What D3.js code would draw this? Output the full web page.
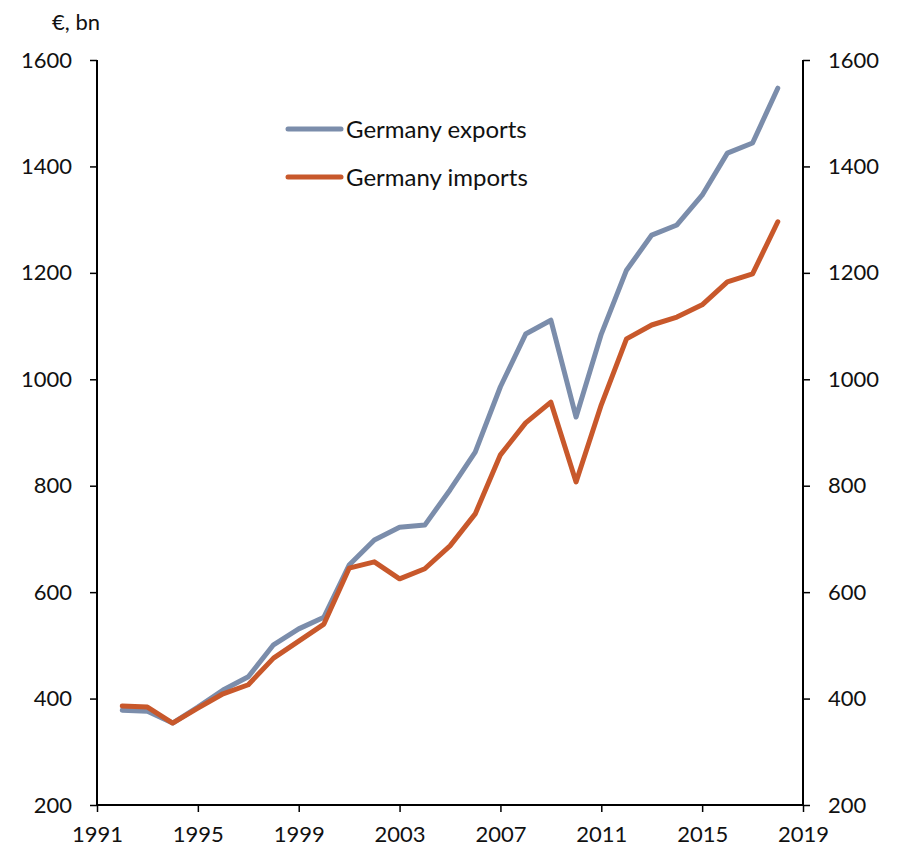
<!DOCTYPE html>
<html><head><meta charset="utf-8">
<script src="https://cdn.jsdelivr.net/npm/d3@7"></script>
<style>body{margin:0;background:#fff}svg text{font-family:Lato,"Open Sans",sans-serif;fill:#111}</style>
</head><body><svg id="c" width="901" height="853"></svg>
<script>
const years = d3.range(1992, 2019);
const exportsVals = [378,376,354,384,416,441,501,531,553,651,698,722,726,792,863,986,1085,1111,929,1085,1205,1271,1290,1346,1425,1444,1547];
const importsVals = [386,384,354,382,409,426,476,508,540,645,657,625,644,687,747,858,918,957,807,952,1076,1102,1117,1140,1183,1198,1296];
const seriesNames = ["Germany exports","Germany imports"];
const seriesColors = ["#7B8DAB","#C8582B"];
const yTicks = [200,400,600,800,1000,1200,1400,1600];
const xTicks = [1991,1995,1999,2003,2007,2011,2015,2019];
const unitLabel = "€, bn";

const svg = d3.select("#c");
const L=97, R=803, T=60, B=805;
const x = d3.scaleLinear().domain([1991,2019]).range([L,R]);
const y = d3.scaleLinear().domain([200,1600]).range([B,T]);
const fs = "22px";

const gl = svg.append("g").attr("transform",`translate(${L},0)`)
  .call(d3.axisLeft(y).tickValues(yTicks).tickFormat(d3.format("d")).tickSize(7).tickPadding(18));
const gr = svg.append("g").attr("transform",`translate(${R},0)`)
  .call(d3.axisRight(y).tickValues(yTicks).tickFormat(d3.format("d")).tickSize(7).tickPadding(18));
const gb = svg.append("g").attr("transform",`translate(0,${B})`)
  .call(d3.axisBottom(x).tickValues(xTicks).tickFormat(d3.format("d")).tickSize(7).tickPadding(14));
[gl,gr,gb].forEach(g=>{
  g.select(".domain").attr("stroke","#000").attr("stroke-width",2);
  g.selectAll(".tick line").attr("stroke","#000").attr("stroke-width",1.5);
  g.selectAll("text").style("font-size",fs).attr("fill","#111").style("font-family","Lato,sans-serif");
});
gl.select(".domain").attr("d",`M0,${T}V${B}`);
gr.select(".domain").attr("d",`M0,${T}V${B}`);
gb.select(".domain").attr("d",`M${L},0H${R}`);

svg.append("text").attr("x",52).attr("y",30).style("font-size",fs).text(unitLabel);

const line = d3.line().x((d,i)=>x(years[i])).y(d=>y(d));
[exportsVals, importsVals].forEach((vals,k)=>{
  svg.append("path").datum(vals).attr("d",line).attr("fill","none")
    .attr("stroke",seriesColors[k]).attr("stroke-width",5).attr("stroke-linejoin","round").attr("stroke-linecap","round");
});

const leg = svg.append("g");
seriesNames.forEach((n,k)=>{
  const yy = 129 + k*48;
  leg.append("line").attr("x1",288).attr("x2",341).attr("y1",yy).attr("y2",yy)
    .attr("stroke",seriesColors[k]).attr("stroke-width",5).attr("stroke-linecap","round");
  leg.append("text").attr("x",346).attr("y",yy).attr("dy","0.36em").style("font-size","24px").text(n);
});
</script></body></html>
